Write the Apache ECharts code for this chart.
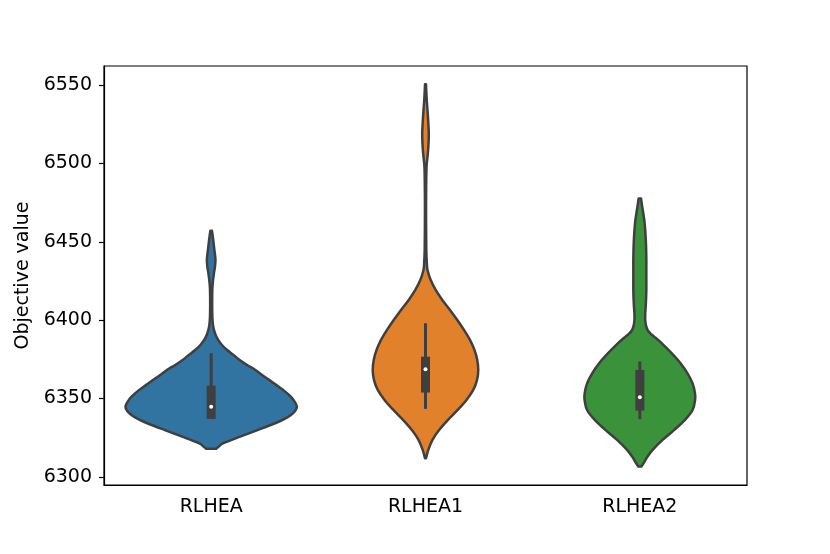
<!DOCTYPE html>
<html>
<head>
<meta charset="utf-8">
<script src="https://cdn.jsdelivr.net/npm/echarts@6/dist/echarts.min.js"></script>
<style>
  html, body { margin: 0; padding: 0; background: #fff; }
  #chart { width: 830px; height: 554px; }
</style>
</head>
<body>
<div id="chart"></div>
<script>
// categories
const algos = ["RLHEA", "RLHEA1", "RLHEA2"];
const yTicks = [6300, 6350, 6400, 6450, 6500, 6550];

// violin outlines: objective value -> relative density (half width)
const blueVals = [6457, 6454, 6450, 6446, 6442, 6438.4, 6434, 6430, 6425, 6420, 6410, 6402, 6397, 6393.8, 6390.5, 6387.4, 6384, 6381, 6378, 6374.6, 6371.4, 6368.2, 6365, 6361.9, 6358.7, 6355.5, 6351.2, 6348, 6344.8, 6342, 6339.5, 6336.8, 6334.2, 6330, 6325.7, 6321.5, 6319.5, 6317.9];
const blueDens = [0.8, 1.5, 2.3, 3, 3.8, 4.3, 3.8, 2.8, 1.8, 1.2, 1, 1.2, 1.8, 2.8, 4.5, 7, 11, 16, 22, 28.5, 36, 44.3, 51, 58, 65, 72, 79.7, 83.5, 85.8, 84, 79.8, 73, 64, 47, 29, 12.3, 8, 5];

const orangeVals = [6550.6, 6546, 6540, 6534, 6526, 6518.3, 6510, 6503, 6497, 6480, 6460, 6445, 6437, 6432, 6425.6, 6419.3, 6412.9, 6406.5, 6400.1, 6393.8, 6387.4, 6381, 6374.6, 6368.2, 6361.9, 6355.5, 6349.1, 6342.7, 6336.4, 6330, 6323.6, 6317.2, 6311.9];
const orangeDens = [0.5, 0.8, 1.3, 2, 2.8, 3.3, 2.8, 1.8, 1, 0.6, 0.6, 0.8, 1.3, 2, 5.2, 10.2, 16.8, 24.5, 31.8, 38.5, 44.5, 49, 51.8, 52.8, 51.6, 47.8, 41, 32.2, 22.5, 13.8, 7, 2.8, 0.5];

const greenVals = [6477.7, 6474, 6470, 6462, 6451, 6440, 6430, 6419, 6410, 6404, 6400.1, 6396.5, 6393.8, 6391.5, 6389.5, 6385.3, 6378.9, 6372.5, 6366.1, 6359.8, 6353.4, 6349.1, 6342.7, 6336.4, 6330, 6323.6, 6317.2, 6312.9, 6308.7, 6306.6];
const greenDens = [1.2, 2, 3, 4.8, 6, 6.5, 6.5, 6.5, 6, 5.4, 5.4, 6.2, 7.7, 10.5, 14.3, 21.8, 31.8, 40.7, 47.7, 52.7, 55.2, 55.3, 52.8, 45.2, 34.5, 22.8, 12.8, 7.7, 3.7, 1.5];

// inner box: lower whisker, q1, median, q3, upper whisker
const whiskerLow = [6337, 6343.4, 6336.8];
const q1 = [6337, 6353.8, 6342.3];
const median = [6344.8, 6368.7, 6350.8];
const q3 = [6358.2, 6376.7, 6368.2];
const whiskerHigh = [6378.9, 6398, 6373.6];

const colors = ["#3274a1", "#e1812c", "#3a923a"];
const edge = "#3f3f3f";

const profiles = [
    { vals: blueVals, dens: blueDens },
    { vals: orangeVals, dens: orangeDens },
    { vals: greenVals, dens: greenDens },
];
const maxDens = Math.max(...blueDens, ...orangeDens, ...greenDens);

// smooth curve through pixel points (Catmull-Rom -> cubic bezier)
function curveThrough(pts) {
    let d = "";
    for (let k = 0; k < pts.length - 1; k++) {
        const p0 = pts[k - 1] || pts[k];
        const p1 = pts[k];
        const p2 = pts[k + 1];
        const p3 = pts[k + 2] || p2;
        const c1 = [p1[0] + (p2[0] - p0[0]) / 6, p1[1] + (p2[1] - p0[1]) / 6];
        const c2 = [p2[0] - (p3[0] - p1[0]) / 6, p2[1] - (p3[1] - p1[1]) / 6];
        d += " C" + c1[0] + "," + c1[1] + " " + c2[0] + "," + c2[1] + " " + p2[0] + "," + p2[1];
    }
    return d;
}

const chart = echarts.init(document.getElementById("chart"));

function renderViolin(params, api) {
    const i = api.value(0);
    const p = profiles[i];
    const half = api.size([1, 0])[0] * 0.4;
    const cx = api.coord([i, p.vals[0]])[0];
    const right = [], left = [];
    for (let k = 0; k < p.vals.length; k++) {
        const y = api.coord([i, p.vals[k]])[1];
        const w = (p.dens[k] / maxDens) * half;
        right.push([cx + w, y]);
        left.unshift([cx - w, y]);
    }
    const d = "M" + right[0][0] + "," + right[0][1] + curveThrough(right) +
        " L" + left[0][0] + "," + left[0][1] + curveThrough(left) + " Z";

    const top = api.coord([i, whiskerHigh[i]])[1];
    const bot = api.coord([i, whiskerLow[i]])[1];
    const boxTop = api.coord([i, q3[i]])[1];
    const boxBot = api.coord([i, q1[i]])[1];
    const med = api.coord([i, median[i]])[1];
    return {
        type: "group",
        children: [
            {
                type: "path",
                shape: { pathData: d },
                style: { fill: colors[i], stroke: edge, lineWidth: 2.5, lineJoin: "round" },
            },
            {
                type: "line",
                shape: { x1: cx, y1: top, x2: cx, y2: bot },
                style: { stroke: edge, lineWidth: 3 },
            },
            {
                type: "rect",
                shape: { x: cx - 4.5, y: boxTop, width: 9, height: boxBot - boxTop },
                style: { fill: edge },
            },
            {
                type: "circle",
                shape: { cx: cx, cy: med, r: 2 },
                style: { fill: "#fff" },
            },
        ],
    };
}

const options = {
    animation: false,
    textStyle: { fontFamily: "DejaVu Sans" },
    grid: {
        left: 104,
        right: 83,
        top: 66,
        bottom: 69,
        show: true,
        borderColor: "#000",
        borderWidth: 1.2,
        backgroundColor: "transparent",
    },
    xAxis: {
        type: "category",
        data: algos,
        boundaryGap: true,
        axisLine: { lineStyle: { color: "#000", width: 1.2 } },
        axisTick: { alignWithLabel: true, length: 5, lineStyle: { color: "#000", width: 1.2 } },
        axisLabel: { color: "#000", fontSize: 19, margin: 13, fontFamily: "DejaVu Sans" },
        splitLine: { show: false },
    },
    yAxis: {
        type: "value",
        min: 6294.8,
        max: 6562.2,
        name: "Objective value",
        nameLocation: "middle",
        nameGap: 70,
        nameTextStyle: { color: "#000", fontSize: 19, fontFamily: "DejaVu Sans" },
        axisLine: { show: true, lineStyle: { color: "#000", width: 1.2 } },
        axisTick: { show: true, length: 5, customValues: yTicks, lineStyle: { color: "#000", width: 1.2 } },
        axisLabel: {
            color: "#000",
            fontSize: 19,
            margin: 12,
            customValues: yTicks,
            fontFamily: "DejaVu Sans",
            formatter: (v) => String(v),
        },
        splitLine: { show: false },
    },
    series: [
        {
            type: "custom",
            renderItem: renderViolin,
            data: algos.map((_, i) => [i]),
            encode: { x: 0 },
            clip: false,
        },
    ],
};

chart.setOption(options);
window.addEventListener("resize", () => {
    chart.resize();
});
</script>
</body>
</html>
